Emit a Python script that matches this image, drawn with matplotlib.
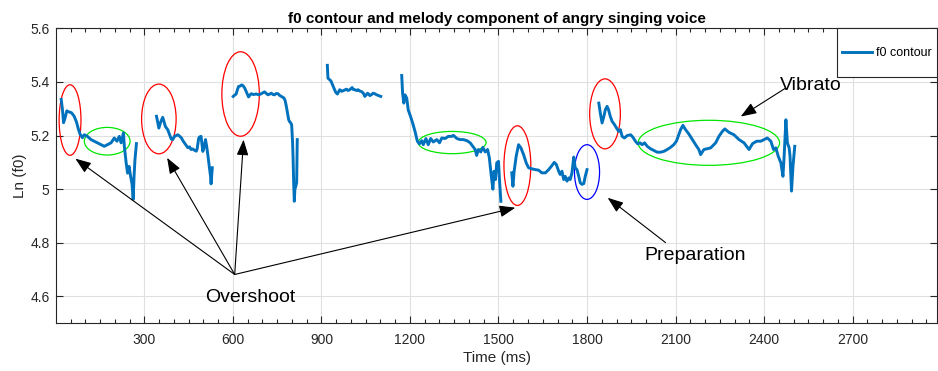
import numpy as np
import matplotlib
matplotlib.use('Agg')
import matplotlib.pyplot as plt
from matplotlib.patches import Ellipse
from matplotlib.ticker import MultipleLocator
from matplotlib.lines import Line2D
from matplotlib.legend_handler import HandlerLine2D

# ==================== data ====================
# each voiced segment of the f0 contour: time (ms) and ln(f0)
seg1_t = [18, 22, 26, 31, 37, 45, 53, 62, 70, 76, 82, 90, 96, 107, 119, 130, 141, 153,
          164, 175, 187, 198, 207, 215, 221, 229, 232, 238, 243, 248, 253, 258, 262,
          265, 268, 273]
seg1_f0 = [5.335, 5.30, 5.248, 5.265, 5.292, 5.288, 5.285, 5.272, 5.25, 5.225, 5.205,
           5.192, 5.203, 5.197, 5.185, 5.179, 5.173, 5.166, 5.16, 5.166, 5.173, 5.191,
           5.179, 5.197, 5.173, 5.21, 5.16, 5.10, 5.06, 5.085, 5.05, 5.02, 4.962,
           5.05, 5.11, 5.17]

seg2_t = [341, 345, 349, 355, 362, 367, 371, 379, 385, 391, 396, 402, 413, 419, 425,
          431, 436, 442, 447, 453, 458, 464, 470, 476, 479, 484, 487, 492, 495, 498,
          503, 507, 511, 515, 518, 521, 524, 526, 530]
seg2_f0 = [5.272, 5.25, 5.228, 5.25, 5.268, 5.25, 5.234, 5.222, 5.205, 5.187, 5.185,
           5.197, 5.203, 5.198, 5.192, 5.18, 5.172, 5.163, 5.155, 5.158, 5.148, 5.15,
           5.145, 5.142, 5.152, 5.19, 5.195, 5.197, 5.17, 5.141, 5.16, 5.185, 5.16,
           5.128, 5.10, 5.075, 5.05, 5.02, 5.08]

seg3_t = [601, 605, 611, 615, 619, 625, 630, 635, 640, 645, 650, 653, 657, 662, 670,
          679, 688, 696, 702, 707, 713, 719, 725, 730, 736, 741, 747, 753, 758, 764,
          768, 773, 777, 781, 785, 789, 792, 796, 799, 802, 804, 806, 808, 810, 813,
          816, 818]
seg3_f0 = [5.346, 5.35, 5.355, 5.37, 5.383, 5.385, 5.389, 5.385, 5.377, 5.364, 5.35,
           5.344, 5.35, 5.356, 5.353, 5.355, 5.352, 5.356, 5.36, 5.363, 5.357, 5.352,
           5.355, 5.358, 5.353, 5.352, 5.357, 5.356, 5.35, 5.346, 5.343, 5.34, 5.33,
           5.309, 5.285, 5.259, 5.252, 5.247, 5.24, 5.18, 5.11, 5.02, 4.955, 5.0,
           5.011, 5.024, 5.185]

seg4_t = [920, 922, 926, 932, 940, 948, 954, 962, 968, 973, 979, 985, 990, 996, 1004,
          1008, 1013, 1019, 1024, 1030, 1036, 1042, 1047, 1052, 1056, 1060, 1064,
          1070, 1075, 1081, 1087, 1094, 1101]
seg4_f0 = [5.462, 5.414, 5.41, 5.404, 5.383, 5.362, 5.355, 5.371, 5.365, 5.367, 5.37,
           5.373, 5.368, 5.371, 5.379, 5.372, 5.371, 5.368, 5.371, 5.366, 5.364, 5.358,
           5.346, 5.352, 5.358, 5.355, 5.349, 5.353, 5.358, 5.356, 5.352, 5.349, 5.346]

seg5_t = [1172, 1175, 1179, 1183, 1189, 1194, 1202, 1209, 1217, 1225, 1232, 1240, 1245,
          1254, 1262, 1270, 1279, 1291, 1300, 1308, 1319, 1330, 1342, 1347, 1359, 1370,
          1381, 1393, 1404, 1413, 1421, 1426, 1432, 1440, 1447, 1455, 1463, 1469, 1475,
          1481, 1485, 1490, 1494, 1500, 1503, 1508]
seg5_f0 = [5.424, 5.358, 5.321, 5.352, 5.34, 5.296, 5.271, 5.247, 5.216, 5.179, 5.169,
           5.181, 5.166, 5.189, 5.166, 5.189, 5.176, 5.185, 5.173, 5.191, 5.189, 5.197,
           5.197, 5.201, 5.189, 5.185, 5.185, 5.181, 5.173, 5.16, 5.148, 5.126, 5.148,
           5.139, 5.156, 5.139, 5.148, 5.117, 5.055, 5.0, 5.067, 5.036, 5.098, 5.104,
           5.042, 4.955]

seg6_t = [1545, 1549, 1553, 1560, 1568, 1576, 1585, 1594, 1602, 1613, 1625, 1636, 1647,
          1659, 1670, 1681, 1689, 1696, 1704, 1709, 1715, 1721, 1726, 1732, 1738, 1743,
          1749, 1755, 1760, 1766, 1772, 1777, 1783, 1789, 1794, 1800]
seg6_f0 = [5.061, 5.011, 5.067, 5.123, 5.166, 5.154, 5.129, 5.098, 5.08, 5.076, 5.073,
           5.071, 5.061, 5.061, 5.073, 5.088, 5.10, 5.092, 5.067, 5.055, 5.067, 5.036,
           5.048, 5.03, 5.042, 5.036, 5.061, 5.12, 5.08, 5.073, 5.048, 5.024, 5.018,
           5.021, 5.048, 5.073]

seg7_t = [1840, 1845, 1851, 1857, 1862, 1868, 1873, 1879, 1885, 1893, 1900, 1907, 1913,
          1919, 1927, 1936, 1948, 1956, 1964, 1972, 1979, 1987, 1995, 2004, 2015, 2026,
          2038, 2049, 2060, 2072, 2083, 2094, 2103, 2111, 2117, 2125, 2134, 2145, 2157,
          2168, 2179, 2185, 2196, 2219, 2236, 2247, 2259, 2267, 2281, 2298, 2315, 2332,
          2349, 2361, 2375, 2389, 2400, 2411, 2423, 2432, 2440, 2448, 2457, 2464, 2468,
          2474, 2479, 2485, 2488, 2493, 2498, 2504]
seg7_f0 = [5.321, 5.284, 5.247, 5.271, 5.296, 5.309, 5.296, 5.271, 5.253, 5.241, 5.228,
           5.216, 5.222, 5.197, 5.191, 5.2, 5.203, 5.193, 5.179, 5.169, 5.173, 5.166,
           5.173, 5.16, 5.151, 5.145, 5.138, 5.138, 5.141, 5.148, 5.156, 5.166, 5.179,
           5.203, 5.222, 5.238, 5.222, 5.206, 5.185, 5.166, 5.148, 5.129, 5.148, 5.154,
           5.173, 5.197, 5.216, 5.225, 5.212, 5.203, 5.185, 5.173, 5.148, 5.17, 5.179,
           5.179, 5.185, 5.191, 5.179, 5.148, 5.154, 5.123, 5.098, 5.048, 5.123, 5.259,
           5.173, 5.154, 5.123, 4.993, 5.086, 5.16]

segments = [(seg1_t, seg1_f0), (seg2_t, seg2_f0), (seg3_t, seg3_f0), (seg4_t, seg4_f0),
            (seg5_t, seg5_f0), (seg6_t, seg6_f0), (seg7_t, seg7_f0)]

x_ticks = [300, 600, 900, 1200, 1500, 1800, 2100, 2400, 2700]
y_ticks = [4.6, 4.8, 5.0, 5.2, 5.4, 5.6]
y_tick_labels = ['4.6', '4.8', '5', '5.2', '5.4', '5.6']

# ==================== annotation shapes ====================
# (center t, center ln f0, width ms, height)
red_marks = [(48, 5.258, 74, 0.263), (349, 5.262, 117, 0.26), (626, 5.355, 127, 0.315),
             (1564, 5.088, 91, 0.297), (1861, 5.281, 104, 0.261)]
green_marks = [(174, 5.179, 155, 0.103), (1343, 5.174, 230, 0.083),
               (2213, 5.173, 479, 0.168)]
blue_marks = [(1800, 5.064, 85, 0.204)]

overshoot_tail = (606, 4.682)
overshoot_heads = [(66, 5.114), (377, 5.117), (636, 5.185), (1557, 4.931)]

AXIS_COLOR = '#262626'
LINE_COLOR = '#0072BD'


class HandlerTextLine(HandlerLine2D):
    """legend line drawn at the height of the label text (tall MATLAB-like box)"""
    def create_artists(self, legend, orig_handle, xdescent, ydescent, width, height,
                       fontsize, trans):
        arts = super().create_artists(legend, orig_handle, xdescent, ydescent, width,
                                      height, fontsize, trans)
        for a in arts:
            a.set_ydata(np.full_like(a.get_xdata(), 0.3 * fontsize))
        return arts


plt.rcParams['font.family'] = ['Liberation Sans', 'DejaVu Sans']

fig = plt.figure(figsize=(9.38, 3.71), dpi=100)
ax = fig.add_axes([0.0602, 0.1286, 0.9384, 0.7951])

# 1. f0 contour (segments split by NaN so it is a single line)
t_all, f0_all = [], []
for t, f in segments:
    t_all += list(t) + [np.nan]
    f0_all += list(f) + [np.nan]
ax.plot(t_all, f0_all, color=LINE_COLOR, lw=2.1, label='f0 contour')

# 2. axes styling
ax.set_xlim(2, 2985)
ax.set_ylim(4.5, 5.6)
ax.set_xticks(x_ticks)
ax.xaxis.set_minor_locator(MultipleLocator(50))
ax.set_yticks(y_ticks)
ax.set_yticklabels(y_tick_labels)
ax.tick_params(which='both', direction='in', top=True, right=True,
               colors=AXIS_COLOR, labelsize=10, width=0.8)
ax.tick_params(which='major', length=5)
ax.tick_params(which='minor', length=3)
ax.tick_params(axis='x', pad=7)
ax.tick_params(axis='y', pad=5)
ax.grid(True, which='major', color='#e0e0e0', lw=0.8)
ax.set_axisbelow(True)
for sp in ax.spines.values():
    sp.set_color(AXIS_COLOR)
    sp.set_linewidth(0.8)

ax.set_title('f0 contour and melody component of angry singing voice',
             fontsize=11, fontweight='bold', pad=4)
ax.set_xlabel('Time (ms)', fontsize=11, color=AXIS_COLOR, labelpad=3)
ax.set_ylabel('Ln (f0)', fontsize=11, color=AXIS_COLOR, labelpad=2)

leg = ax.legend(loc='upper right', bbox_to_anchor=(1, 1), borderaxespad=0, fontsize=9,
                handlelength=2.4, handletextpad=0.35, borderpad=0.4, handleheight=4.4,
                fancybox=False, edgecolor=AXIS_COLOR, framealpha=1,
                handler_map={Line2D: HandlerTextLine()})
leg.get_frame().set_linewidth(0.8)

# 3. ellipses
for marks, col in [(red_marks, '#ff0000'), (green_marks, '#00e600'), (blue_marks, '#0000ff')]:
    for cx, cy, w, h in marks:
        ax.add_patch(Ellipse((cx, cy), w, h, fill=False, edgecolor=col, lw=0.9))

# 4. arrows and labels
arrow = dict(arrowstyle='-|>,head_length=0.8,head_width=0.3', color='k', lw=0.8,
             mutation_scale=12, shrinkA=0, shrinkB=0)
for head in overshoot_heads:
    ax.annotate('', xy=head, xytext=overshoot_tail, arrowprops=arrow)
ax.annotate('', xy=(1870, 4.968), xytext=(2066, 4.801), arrowprops=arrow)
ax.annotate('', xy=(2321, 5.271), xytext=(2473, 5.377), arrowprops=arrow)

ax.text(658, 4.596, 'Overshoot', fontsize=14, ha='center', va='center')
ax.text(2168, 4.751, 'Preparation', fontsize=14, ha='center', va='center')
ax.text(2558, 5.385, 'Vibrato', fontsize=14, ha='center', va='center')

fig.savefig('out.png', dpi=100)
